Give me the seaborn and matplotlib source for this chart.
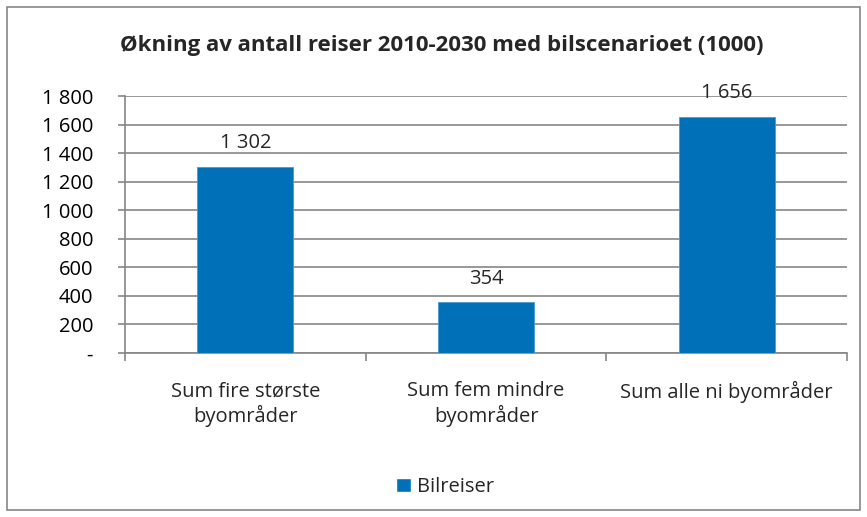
import matplotlib
matplotlib.use("Agg")
import matplotlib.pyplot as plt
import seaborn as sns
import pandas as pd
from matplotlib.patches import Rectangle

categories = ["Sum fire største\nbyområder", "Sum fem mindre\nbyområder", "Sum alle ni byområder"]
values = [1302, 354, 1656]
series_name = "Bilreiser"
yticks = [0, 200, 400, 600, 800, 1000, 1200, 1400, 1600, 1800]
title = "Økning av antall reiser 2010-2030 med bilscenarioet (1000)"

def fmt(v):
    return "-" if v == 0 else f"{v:,}".replace(",", " ")

sns.set_theme(style="white")
plt.rcParams['font.family'] = ['Open Sans', 'DejaVu Sans']

FS = 14.5
df = pd.DataFrame({"cat": categories, "val": values, "series": series_name})
W, H = 8.67, 5.17
fig = plt.figure(figsize=(W, H), dpi=100)
ax = fig.add_axes([125 / 867, 1 - 353 / 517, (847 - 125) / 867, (353 - 96) / 517])

color = "#0070B8"
sns.barplot(data=df, x="cat", y="val", color=color, saturation=1, width=0.4, ax=ax,
            edgecolor="#4A9AD0", linewidth=0.6, zorder=3)

ax.set_ylim(0, 1800)
ax.set_xlim(-0.5, 2.5)
ax.set_yticks(yticks)
ax.set_yticklabels([fmt(v) for v in yticks], fontsize=FS, color="#000000")
ax.yaxis.grid(True, color="#868686", linewidth=1.2, zorder=0)
ax.set_xlabel("")
ax.set_ylabel("")
for s in ["top", "right"]:
    ax.spines[s].set_visible(False)
for s in ["left", "bottom"]:
    ax.spines[s].set_color("#868686")
    ax.spines[s].set_linewidth(1.2)
ax.tick_params(axis="y", direction="out", length=5, width=1.2, color="#868686", pad=18, left=True)
ax.set_xticks([-0.5, 0.5, 1.5, 2.5], minor=False)
ax.set_xticklabels([])
ax.tick_params(axis="x", direction="out", length=6, width=1.2, color="#868686", bottom=True)
for i, c in enumerate(categories):
    ax.text(i, -0.11, c, transform=ax.get_xaxis_transform(), ha="center", va="top",
            fontsize=FS, linespacing=1.2)

for i, v in enumerate(values):
    ax.annotate(fmt(v), (i, v), xytext=(0, 10), textcoords="offset points",
                ha="center", va="bottom", fontsize=FS)

fig.text(442 / 867, 1 - 46 / 517, title, ha="center", va="center", fontsize=16, fontweight="bold")

handle = Rectangle((0, 0), 1, 1, facecolor=color)
fig.legend([handle], [series_name], loc="center", bbox_to_anchor=(445 / 867, 1 - 487 / 517),
           frameon=False, fontsize=FS, handlelength=0.7, handleheight=0.7, handletextpad=0.3)

fig.patches.append(Rectangle((7 / 867, 7 / 517), (860 - 7) / 867, (510 - 7) / 517,
                             transform=fig.transFigure, fill=False, edgecolor="#868686", linewidth=1.2))

fig.savefig("out.png", dpi=100)
